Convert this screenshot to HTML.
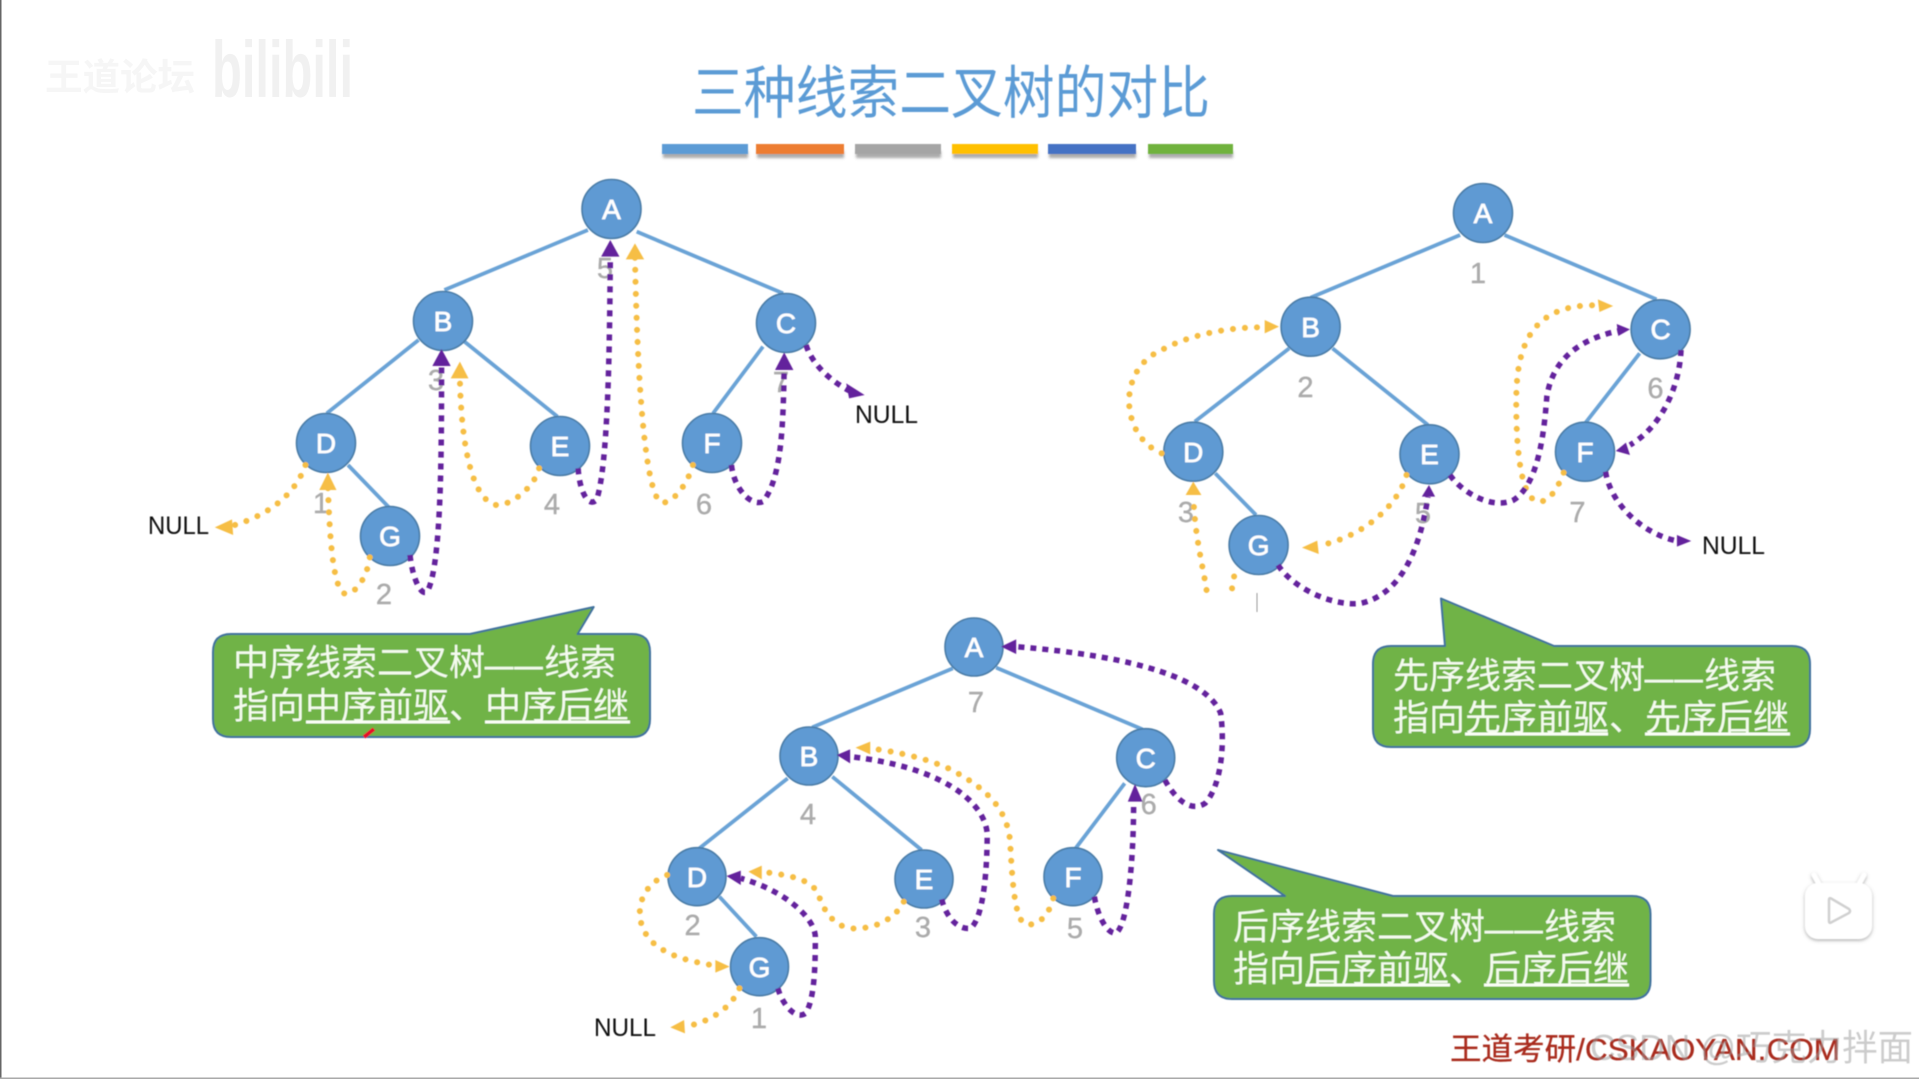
<!DOCTYPE html>
<html lang="zh">
<head>
<meta charset="utf-8">
<title>三种线索二叉树的对比</title>
<style>
html,body{margin:0;padding:0;background:#fff;width:1919px;height:1079px;overflow:hidden}
svg{display:block;position:absolute;left:0;top:0}
text{font-family:"Liberation Sans","Noto Sans CJK SC",sans-serif}
.e{fill:none;stroke:#6aa3d6;stroke-width:3.8;vector-effect:non-scaling-stroke}
.y{fill:none;stroke:#f6be45;stroke-width:6;stroke-linecap:round;stroke-dasharray:0.01 12;vector-effect:non-scaling-stroke}
.p{fill:none;stroke:#63209c;stroke-width:5.5;stroke-dasharray:6 6;vector-effect:non-scaling-stroke}
.ya{fill:#f6be45}.pa{fill:#63209c}
.n{fill:#5f9ad3;stroke:#4a7ba6;stroke-width:1.6}
.l{fill:#fff;stroke:#fff;stroke-width:.7;font-size:28px;text-anchor:middle}
.d{fill:#ababab;stroke:#ababab;stroke-width:.4;font-size:29px;text-anchor:middle}
.nl{fill:#0a0a0a;font-size:25px}
.c{fill:#70b347;stroke:#41719c;stroke-width:2;stroke-linejoin:round}
.t{fill:#f4fbee;font-size:36px;font-family:"Liberation Sans","Noto Sans CJK SC",sans-serif}
.ds{font-size:28px;letter-spacing:1.5px;stroke:#f4fbee;stroke-width:.9}
.u{stroke:#fbfff7;stroke-width:3}
</style>
</head>
<body>
<svg width="1919" height="1079" viewBox="0 0 1919 1079" xmlns="http://www.w3.org/2000/svg">
<defs>
<filter id="soft" x="-5%" y="-5%" width="110%" height="110%"><feGaussianBlur stdDeviation="0.55"/></filter>
<filter id="bar" x="-10%" y="-30%" width="120%" height="180%"><feGaussianBlur stdDeviation="1.4"/></filter>
<filter id="iconS" x="-20%" y="-20%" width="140%" height="140%"><feDropShadow dx="0" dy="1.5" stdDeviation="1.8" flood-color="#888" flood-opacity=".7"/></filter>
</defs>
<rect width="1919" height="1079" fill="#fff"/>
<rect x="0" y="0" width="1.5" height="1079" fill="#666"/>
<rect x="0" y="1077.5" width="1919" height="1.5" fill="#aaa"/>

<!-- faint watermark top-left -->
<text x="45" y="90" font-size="37" font-weight="bold" fill="#f6f6f6" textLength="150" lengthAdjust="spacingAndGlyphs">王道论坛</text>
<text x="212" y="97" font-size="80" font-weight="bold" fill="#f1f1f1" textLength="141" lengthAdjust="spacingAndGlyphs">bilibili</text>

<g filter="url(#soft)">
<!-- title -->
<text x="692" y="113" font-size="57.5" fill="#5b9bd5" textLength="518" lengthAdjust="spacingAndGlyphs">三种线索二叉树的对比</text>

<!-- colour bars -->
<g fill="#888" opacity=".7" filter="url(#bar)">
<rect x="663" y="151" width="85" height="7"/><rect x="757" y="151" width="87" height="7"/><rect x="856" y="151" width="85" height="7"/><rect x="953" y="151" width="85" height="7"/><rect x="1049" y="151" width="87" height="7"/><rect x="1149" y="151" width="84" height="7"/>
</g>
<rect x="662" y="144" width="86" height="10" fill="#5b9bd5"/>
<rect x="756" y="144" width="88" height="10" fill="#ed7d31"/>
<rect x="855" y="144" width="86" height="10" fill="#a5a5a5"/>
<rect x="952" y="144" width="86" height="10" fill="#ffc000"/>
<rect x="1048" y="144" width="88" height="10" fill="#4472c4"/>
<rect x="1148" y="144" width="85" height="10" fill="#70b23c"/>

<!-- ===== TREE 1 : in-order ===== -->
<g>
<text class="d" x="605" y="278">5</text><text class="d" x="436" y="390">3</text><text class="d" x="781" y="392">7</text>
<text class="d" x="321" y="513">1</text><text class="d" x="384" y="604">2</text><text class="d" x="552" y="514">4</text><text class="d" x="704" y="514">6</text>
<g transform="translate(100,150) scale(.574,.33333)">
<path class="e" d="M850,240L600,420M935,245L1190,430M555,570L395,790M635,575L797,800M1155,590L1068,790M432,945L505,1075"/>
</g>
<ellipse class="n" cx="611.5" cy="209" rx="29.5" ry="29.5"/><text class="l" x="611.5" y="219">A</text>
<ellipse class="n" cx="443" cy="321" rx="29.5" ry="29.5"/><text class="l" x="443" y="331">B</text>
<ellipse class="n" cx="786" cy="323" rx="29.5" ry="29.5"/><text class="l" x="786" y="333">C</text>
<ellipse class="n" cx="326" cy="443" rx="29.5" ry="29.5"/><text class="l" x="326" y="453">D</text>
<ellipse class="n" cx="560" cy="446" rx="29.5" ry="29.5"/><text class="l" x="560" y="456">E</text>
<ellipse class="n" cx="712" cy="443" rx="29.5" ry="29.5"/><text class="l" x="712" y="453">F</text>
<ellipse class="n" cx="390" cy="536" rx="29.5" ry="29.5"/><text class="l" x="390" y="546">G</text>
<g transform="translate(100,150) scale(.574,.33333)">
<path class="y" d="M358,945C345,1010 310,1090 225,1130"/><polygon class="ya" points="200,1132 230,1108 232,1155"/>
<path class="y" d="M470,1222C465,1290 440,1340 425,1330C405,1310 400,1150 397,1010"/><polygon class="ya" points="397,968 382,1020 412,1020"/>
<path class="y" d="M765,955C755,1020 710,1070 690,1065C650,1050 630,900 627,690"/><polygon class="ya" points="627,635 611,685 642,685"/>
<path class="y" d="M1033,945C1020,1020 990,1070 975,1055C945,1000 935,600 932,320"/><polygon class="ya" points="932,280 916,328 948,328"/>
<path class="p" d="M540,1215C545,1290 560,1340 570,1325C595,1250 595,900 595,650"/><polygon class="pa" points="595,597 579,648 611,648"/>
<path class="p" d="M833,955C835,1020 850,1075 865,1050C885,950 888,600 889,310"/><polygon class="pa" points="889,270 873,320 905,320"/>
<path class="p" d="M1100,945C1105,1020 1135,1070 1155,1055C1190,980 1190,800 1192,650"/><polygon class="pa" points="1192,607 1176,660 1208,660"/>
<path class="p" d="M1230,585C1240,640 1270,690 1305,722"/><polygon class="pa" points="1332,735 1300,700 1305,745"/>
</g>
<text class="nl" x="148" y="534" textLength="61" lengthAdjust="spacingAndGlyphs">NULL</text>
<text class="nl" x="855" y="423" textLength="63" lengthAdjust="spacingAndGlyphs">NULL</text>
</g>

<!-- ===== TREE 2 : pre-order ===== -->
<g>
<text class="d" x="1478" y="283">1</text><text class="d" x="1305.5" y="397">2</text><text class="d" x="1655.5" y="398">6</text>
<text class="d" x="1186" y="522">3</text><text class="d" x="1423" y="523">5</text><text class="d" x="1577.5" y="522">7</text>
<g transform="translate(1080,170) scale(.5102,.33333)">
<path class="e" d="M745,195L452,383M832,195L1130,388M410,535L225,755M495,535L682,765M1097,550L990,760M265,910L345,1035"/>
</g>
<ellipse class="n" cx="1483" cy="213" rx="29.5" ry="29.5"/><text class="l" x="1483" y="223">A</text>
<ellipse class="n" cx="1310.6" cy="326.7" rx="29.5" ry="29.5"/><text class="l" x="1310.6" y="337">B</text>
<ellipse class="n" cx="1660.6" cy="329.3" rx="29.5" ry="29.5"/><text class="l" x="1660.6" y="339">C</text>
<ellipse class="n" cx="1193.3" cy="451.7" rx="29.5" ry="29.5"/><text class="l" x="1193.3" y="462">D</text>
<ellipse class="n" cx="1429.5" cy="454.3" rx="29.5" ry="29.5"/><text class="l" x="1429.5" y="464">E</text>
<ellipse class="n" cx="1585" cy="451.7" rx="29.5" ry="29.5"/><text class="l" x="1585" y="462">F</text>
<ellipse class="n" cx="1258.6" cy="545" rx="29.5" ry="29.5"/><text class="l" x="1258.6" y="555">G</text>
<g transform="translate(1080,170) scale(.5102,.33333)">
<path class="y" d="M160,850C80,800 70,600 160,540C220,490 300,470 365,472"/><polygon class="ya" points="390,470 362,450 362,490"/>
<path class="y" d="M248,1260C240,1180 225,1100 222,975"/><polygon class="ya" points="222,935 207,975 238,975"/>
<path class="y" d="M298,1255C300,1230 304,1205 308,1185"/>
<path class="y" d="M640,915C625,1000 560,1100 465,1128"/><polygon class="ya" points="435,1133 465,1112 468,1152"/>
<path class="y" d="M948,908C935,960 915,1010 890,990C860,960 855,800 855,700C855,560 870,400 1015,406"/><polygon class="ya" points="1045,408 1015,388 1018,426"/>
<path class="p" d="M388,1185C420,1260 500,1310 550,1300C640,1270 670,1100 682,980"/><polygon class="pa" points="684,945 670,980 696,980"/>
<path class="p" d="M725,915C750,970 810,1020 850,990C900,940 910,780 915,680C925,580 970,510 1055,483"/><polygon class="pa" points="1078,478 1052,462 1055,498"/>
<path class="p" d="M1178,540C1175,650 1140,770 1078,825"/><polygon class="pa" points="1050,843 1070,818 1078,855"/>
<path class="p" d="M1030,905C1040,1000 1100,1090 1170,1113"/><polygon class="pa" points="1198,1113 1170,1095 1170,1130"/>
</g>
<text class="nl" x="1702" y="554" textLength="63" lengthAdjust="spacingAndGlyphs">NULL</text>
<path d="M1257,593V612" stroke="#999" stroke-width="1" fill="none"/>
</g>

<!-- ===== TREE 3 : post-order ===== -->
<g>
<text class="d" x="976" y="712">7</text><text class="d" x="808" y="824">4</text><text class="d" x="1148.7" y="814">6</text>
<text class="d" x="692.6" y="935">2</text><text class="d" x="923" y="937">3</text><text class="d" x="1075" y="938">5</text><text class="d" x="759" y="1028">1</text>
<g transform="translate(560,600) scale(.4464,.33333)">
<path class="e" d="M880,205L565,382M977,203L1305,388M510,535L312,745M610,530L810,750M1265,550L1155,745M357,890L440,1010"/>
</g>
<ellipse class="n" cx="974" cy="647" rx="29" ry="29"/><text class="l" x="974" y="657">A</text>
<ellipse class="n" cx="809" cy="756" rx="29" ry="29"/><text class="l" x="809" y="766">B</text>
<ellipse class="n" cx="1145.7" cy="757.7" rx="29" ry="29"/><text class="l" x="1145.7" y="768">C</text>
<ellipse class="n" cx="697" cy="876.7" rx="29" ry="29"/><text class="l" x="697" y="887">D</text>
<ellipse class="n" cx="924" cy="879" rx="29" ry="29"/><text class="l" x="924" y="889">E</text>
<ellipse class="n" cx="1073" cy="876.7" rx="29" ry="29"/><text class="l" x="1073" y="887">F</text>
<ellipse class="n" cx="759.5" cy="966.7" rx="29" ry="29"/><text class="l" x="759.5" y="977">G</text>
<g transform="translate(560,600) scale(.4464,.33333)">
<path class="y" d="M240,825C170,860 160,970 210,1030C250,1075 300,1085 350,1098"/><polygon class="ya" points="380,1100 348,1080 348,1118"/>
<path class="y" d="M402,1165C385,1220 340,1265 280,1280"/><polygon class="ya" points="247,1282 278,1260 280,1300"/>
<path class="y" d="M770,905C750,960 700,990 650,985C610,975 590,930 578,880C560,835 510,825 450,815"/><polygon class="ya" points="422,815 452,797 452,838"/>
<path class="y" d="M1105,895C1095,950 1065,985 1040,970C1015,950 1012,800 1008,720C1000,620 950,560 870,505C810,470 750,455 695,445"/><polygon class="ya" points="662,443 695,425 695,463"/>
<path class="p" d="M488,1165C500,1220 530,1260 550,1240C570,1200 572,1100 572,1010C570,950 500,870 405,835"/><polygon class="pa" points="373,828 405,812 405,855"/>
<path class="p" d="M855,898C865,950 890,990 920,985C950,950 957,800 957,700C950,600 850,500 650,470"/><polygon class="pa" points="620,465 650,448 650,490"/>
<path class="p" d="M1197,890C1205,950 1225,1000 1245,1000C1270,980 1285,800 1285,605"/><polygon class="pa" points="1288,552 1272,605 1305,605"/>
<path class="p" d="M1355,540C1375,590 1410,640 1445,610C1480,560 1490,440 1480,340C1450,240 1300,170 1022,140"/><polygon class="pa" points="988,140 1022,118 1022,162"/>
</g>
<text class="nl" x="594" y="1036" textLength="62" lengthAdjust="spacingAndGlyphs">NULL</text>
</g>

<!-- ===== CALLOUT 1 ===== -->
<path class="c" d="M231,634H470L593.7,607L577.6,634H632Q650,634 650,652V719Q650,737 632,737H231Q213,737 213,719V652Q213,634 231,634Z"/>
<text class="t" x="233" y="675">中序线索二叉树<tspan class="ds">——</tspan>线索</text>
<text class="t" x="233" y="718">指向中序前驱、中序后继</text>
<path class="u" d="M306,722H450M485,722H630" fill="none"/>
<path d="M364,737L374,729" stroke="#e8102a" stroke-width="4" fill="none"/>

<!-- ===== CALLOUT 2 ===== -->
<path class="c" d="M1391,646H1445L1441,598.5L1554,646H1792Q1810,646 1810,664V729Q1810,747 1792,747H1391Q1373,747 1373,729V664Q1373,646 1391,646Z"/>
<text class="t" x="1393" y="688">先序线索二叉树<tspan class="ds">——</tspan>线索</text>
<text class="t" x="1393" y="730">指向先序前驱、先序后继</text>
<path class="u" d="M1465,734H1608M1645,734H1790" fill="none"/>

<!-- ===== CALLOUT 3 ===== -->
<path class="c" d="M1232,896H1285L1218,850L1393,896H1632Q1650.5,896 1650.5,914V981Q1650.5,999 1632,999H1232Q1214,999 1214,981V914Q1214,896 1232,896Z"/>
<text class="t" x="1233" y="939">后序线索二叉树<tspan class="ds">——</tspan>线索</text>
<text class="t" x="1233" y="981">指向后序前驱、后序后继</text>
<path class="u" d="M1305.5,985H1450M1484,985H1629" fill="none"/>

<!-- footer -->
<text x="1450" y="1060" font-size="31" fill="#a92a1c" stroke="#a92a1c" stroke-width=".3" textLength="390" lengthAdjust="spacingAndGlyphs">王道考研/CSKAOYAN.COM</text>
<text x="1590" y="1060" font-size="36" fill="#9a9a9a" opacity=".5" textLength="323" lengthAdjust="spacingAndGlyphs">CSDN @巧克力拌面</text>

<!-- play badge -->
<g filter="url(#iconS)">
<path d="M1820,886L1814,875M1858,886L1864,875" stroke="#fff" stroke-width="5" stroke-linecap="round" fill="none"/>
<rect x="1805" y="883" width="67" height="56" rx="13" fill="#fff"/>
</g>
<path d="M1829,900Q1829,897 1832,899L1849,909Q1851,911 1849,913L1832,922Q1829,924 1829,921Z" fill="#fff" stroke="#d0d0d0" stroke-width="2.6"/>
</g>
</svg>
</body>
</html>
